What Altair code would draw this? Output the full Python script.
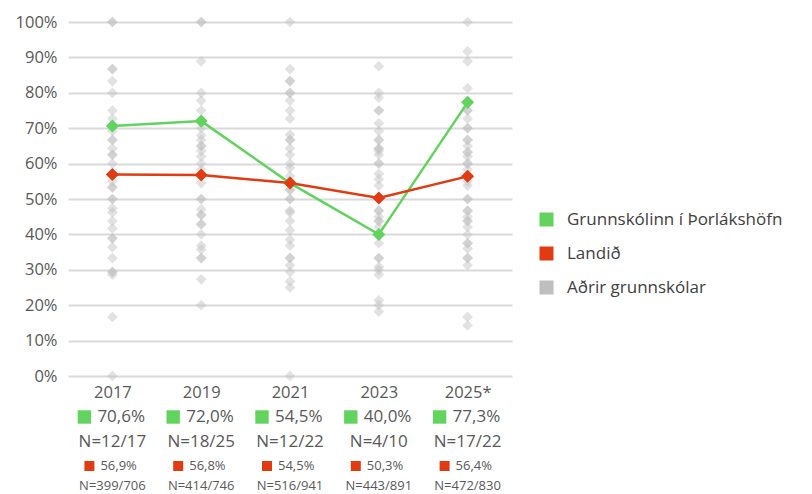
import altair as alt
import pandas as pd

years = ["2017", "2019", "2021", "2023", "2025*"]
school_pct = [0.706, 0.720, 0.545, 0.400, 0.773]
national_pct = [0.569, 0.568, 0.545, 0.503, 0.564]
school_n = ["N=12/17", "N=18/25", "N=12/22", "N=4/10", "N=17/22"]
national_n = ["N=399/706", "N=414/746", "N=516/941", "N=443/891", "N=472/830"]

others_2017 = [100, 100, 86.7, 86.7, 83.3, 80, 75, 72.7, 69.2, 66.7, 66.7, 64.3, 62.5, 62.5,
               60, 55, 53.3, 53.3, 50, 50, 47.4, 46.2, 43.8, 41.7, 38.9, 38.9, 36.4, 33.3,
               29.4, 29.4, 28.6, 16.7, 0]
others_2019 = [100, 100, 88.9, 80, 77.8, 75, 70, 68, 66.7, 65, 65, 63.6, 62, 60, 58.3, 54.5,
               50, 50, 47.1, 45.5, 45.5, 42.9, 42.9, 40, 36.8, 35.7, 33.3, 33.3, 27.3, 20]
others_2021 = [100, 86.7, 83.3, 83.3, 80, 80, 77.8, 75, 72.7, 68.2, 66.7, 66.7, 64.3, 62.5,
               60, 58.8, 56.5, 55, 52.6, 52.6, 50, 50, 46.7, 46.2, 43.8, 41.2, 38.5, 36.8,
               33.3, 33.3, 31.3, 29.4, 26.7, 25, 0]
others_2023 = [87.5, 80, 78.6, 75, 75, 71.4, 69.2, 66.7, 66.7, 64.3, 64.3, 63.6, 62.5, 60, 60,
               57.1, 55.6, 53.8, 46.7, 46.7, 45, 43.8, 43.8, 42.1, 37.5, 33.3, 33.3, 30.8, 30,
               28.6, 21.4, 20, 18.2]
others_2025 = [100, 91.7, 88.9, 81.3, 75, 75, 72.7, 70, 70, 66.7, 66.7, 65, 63.2, 63.2, 62,
               60, 60, 58.3, 55, 53.8, 50, 50, 46.7, 46.7, 45, 43.8, 43.8, 42.1, 40, 37.5,
               37.5, 36, 33.3, 33.3, 31.3, 16.7, 14.3]

series_names = ["Grunnskólinn í Þorlákshöfn", "Landið", "Aðrir grunnskólar"]
series_colors = ["#63d35f", "#e03b12", "#bfbfbf"]

FONT = "Open Sans"
TEXT_COLOR = "#595959"

others_lists = [others_2017, others_2019, others_2021, others_2023, others_2025]
others_rows = []
for yr, vals in zip(years, others_lists):
    for v in vals:
        others_rows.append({"year": yr, "value": v / 100, "series": series_names[2]})
others_df = pd.DataFrame(others_rows)

main_rows = []
for yr, s, n in zip(years, school_pct, national_pct):
    main_rows.append({"year": yr, "value": s, "series": series_names[0]})
    main_rows.append({"year": yr, "value": n, "series": series_names[1]})
main_df = pd.DataFrame(main_rows)

def fmt(v):
    return f"{v * 100:.1f}%".replace(".", ",")

label_df = pd.DataFrame({
    "year": years,
    "school_lbl": [fmt(v) for v in school_pct],
    "national_lbl": [fmt(v) for v in national_pct],
    "school_n": school_n,
    "national_n": national_n,
})

color_scale = alt.Scale(domain=series_names, range=series_colors)
x_enc = alt.X(
    "year:N",
    sort=years,
    scale=alt.Scale(type="point", padding=0.5, domain=years),
    axis=alt.Axis(title=None, labelAngle=0, domain=False, ticks=False, grid=False,
                  labelFontSize=16.5, labelColor=TEXT_COLOR, labelPadding=8, labelFont=FONT),
)
y_enc = alt.Y(
    "value:Q",
    scale=alt.Scale(domain=[0, 1]),
    axis=alt.Axis(title=None, format=".0%", values=[i / 10 for i in range(11)],
                  domain=False, ticks=False, grid=True, gridColor="#d9d9d9", gridWidth=2,
                  labelFontSize=16.5, labelColor=TEXT_COLOR, labelPadding=11, labelFont=FONT),
)
legend_def = alt.Legend(
    title=None, orient="none", legendX=470, legendY=189, symbolType="square",
    symbolSize=196, symbolOpacity=1, symbolStrokeWidth=0, labelFontSize=17,
    labelColor="#404040", labelFont=FONT, rowPadding=16, padding=0, labelOffset=12,
    labelLimit=400,
)

grey = alt.Chart(others_df).mark_point(shape="diamond", filled=True, size=115, opacity=0.45).encode(
    x=x_enc, y=y_enc,
    color=alt.Color("series:N", scale=color_scale, legend=legend_def),
)
line_school = alt.Chart(main_df).transform_filter(
    alt.datum.series == series_names[0]
).mark_line(strokeWidth=2.5, color=series_colors[0]).encode(x=x_enc, y=y_enc)
line_nat = alt.Chart(main_df).transform_filter(
    alt.datum.series == series_names[1]
).mark_line(strokeWidth=2.5, color=series_colors[1]).encode(x=x_enc, y=y_enc)
pts = alt.Chart(main_df).mark_point(shape="diamond", filled=True, size=170, opacity=1).encode(
    x=x_enc, y=y_enc,
    color=alt.Color("series:N", scale=color_scale, legend=legend_def),
)

H = 354
base_lbl = alt.Chart(label_df)
sq1 = base_lbl.mark_square(size=180, color=series_colors[0], opacity=1, xOffset=-28).encode(
    x=x_enc, y=alt.value(H + 41))
t1 = base_lbl.mark_text(align="left", baseline="middle", dx=-15, fontSize=17, font=FONT,
                        color=TEXT_COLOR).encode(x=x_enc, y=alt.value(H + 41), text="school_lbl:N")
t2 = base_lbl.mark_text(align="center", baseline="middle", fontSize=17, font=FONT,
                        color=TEXT_COLOR).encode(x=x_enc, y=alt.value(H + 66), text="school_n:N")
sq3 = base_lbl.mark_square(size=100, color=series_colors[1], opacity=1, xOffset=-23).encode(
    x=x_enc, y=alt.value(H + 90))
t3 = base_lbl.mark_text(align="left", baseline="middle", dx=-12, fontSize=13, font=FONT,
                        color=TEXT_COLOR).encode(x=x_enc, y=alt.value(H + 90), text="national_lbl:N")
t4 = base_lbl.mark_text(align="center", baseline="middle", fontSize=13, font=FONT,
                        color=TEXT_COLOR).encode(x=x_enc, y=alt.value(H + 110), text="national_n:N")

chart = alt.layer(grey, line_school, line_nat, pts, sq1, t1, t2, sq3, t3, t4).properties(
    width=444, height=H,
    autosize=alt.AutoSizeParams(type="none"),
    padding={"left": 60, "top": 14, "right": 292, "bottom": 119},
).configure(font=FONT).configure_view(strokeWidth=0, stroke="transparent")

chart.save("out.html", embed_options={"renderer": "svg", "actions": False})
